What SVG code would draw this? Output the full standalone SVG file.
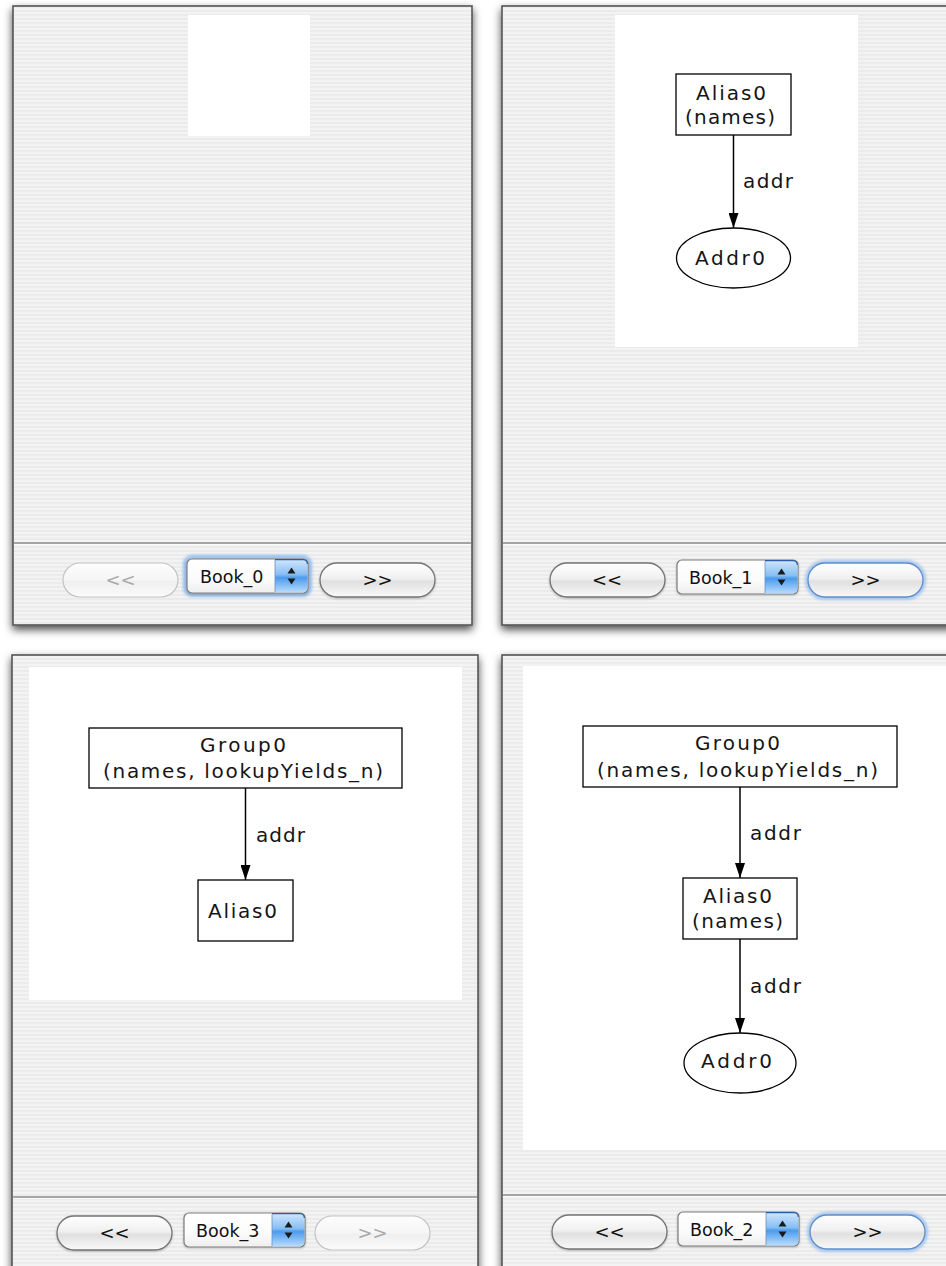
<svg xmlns="http://www.w3.org/2000/svg" width="946" height="1266" viewBox="0 0 946 1266">
<style>
.win{fill:url(#stripes);stroke:#555555;stroke-width:1.6;filter:url(#shadow)}
.sep{stroke:#8e8e8e;stroke-width:1.3}
.sepHi{stroke:#fbfbfb;stroke-width:1}
.canvas{fill:#ffffff}
.node{fill:#ffffff;stroke:#000;stroke-width:1.3}
.edge{stroke:#000;stroke-width:1.5;fill:none;marker-end:url(#arrow)}
.lbl{font-family:"DejaVu Sans","Liberation Sans",sans-serif;font-size:20px;fill:#151515}
.btxt{font-family:"DejaVu Sans","Liberation Sans",sans-serif;font-size:18px;fill:#111;text-anchor:middle}
.dis{fill:#a9a9a9}
.ptxt{font-family:"DejaVu Sans","Liberation Sans",sans-serif;font-size:17.5px;fill:#111}
</style>
<defs>
<pattern id="stripes" patternUnits="userSpaceOnUse" width="4" height="4">
<rect width="4" height="4" fill="#ebebeb"/>
<rect width="4" height="2" fill="#f3f3f3"/>
</pattern>
<filter id="shadow" x="-10%" y="-10%" width="120%" height="120%">
<feDropShadow dx="0" dy="4" stdDeviation="4.5" flood-color="#000" flood-opacity="0.7"/>
</filter>
<filter id="glow" x="-20%" y="-40%" width="140%" height="180%">
<feGaussianBlur stdDeviation="1.6"/>
</filter>
<filter id="btnShadow" x="-10%" y="-20%" width="120%" height="150%">
<feDropShadow dx="0" dy="1" stdDeviation="0.8" flood-color="#000" flood-opacity="0.25"/>
</filter>
<linearGradient id="gBtn" x1="0" y1="0" x2="0" y2="1">
<stop offset="0" stop-color="#ffffff"/>
<stop offset="0.45" stop-color="#f0f0f0"/>
<stop offset="0.55" stop-color="#e0e0e0"/>
<stop offset="1" stop-color="#fafafa"/>
</linearGradient>
<linearGradient id="gBtnDis" x1="0" y1="0" x2="0" y2="1">
<stop offset="0" stop-color="#fdfdfd"/>
<stop offset="0.5" stop-color="#f5f5f5"/>
<stop offset="0.55" stop-color="#efefef"/>
<stop offset="1" stop-color="#fbfbfb"/>
</linearGradient>
<linearGradient id="gPop" x1="0" y1="0" x2="0" y2="1">
<stop offset="0" stop-color="#ffffff"/>
<stop offset="0.6" stop-color="#fbfbfb"/>
<stop offset="1" stop-color="#eeeeee"/>
</linearGradient>
<linearGradient id="gBlue" x1="0" y1="0" x2="0" y2="1">
<stop offset="0" stop-color="#cfe6fc"/>
<stop offset="0.45" stop-color="#88bff4"/>
<stop offset="0.55" stop-color="#4c9bed"/>
<stop offset="1" stop-color="#b9dcfd"/>
</linearGradient>
<marker id="arrow" markerUnits="userSpaceOnUse" viewBox="0 0 15 10" refX="15" refY="5" markerWidth="15" markerHeight="10" orient="auto">
<path d="M0,0 L15,5 L0,10 z" fill="#000"/>
</marker>
<g id="pillN">
<rect x="0" y="0" width="115" height="34" rx="17" fill="url(#gBtn)" stroke="#747474" stroke-width="1.3" filter="url(#btnShadow)"/>
</g>
<g id="pillD">
<rect x="0" y="0" width="115" height="34" rx="17" fill="url(#gBtnDis)" stroke="#c3c3c3" stroke-width="1.2"/>
</g>
<g id="pillB">
<rect x="-1" y="-1" width="117" height="36" rx="18" fill="none" stroke="#8ab6ea" stroke-width="4" opacity="0.75" filter="url(#glow)"/>
<rect x="0" y="0" width="115" height="34" rx="17" fill="url(#gBtn)" stroke="#5d8ecb" stroke-width="1.3"/>
</g>
<g id="popup">
<rect x="0" y="0" width="121" height="34" rx="5" fill="url(#gPop)" stroke="#7c7c7c" stroke-width="1.2" filter="url(#btnShadow)"/>
<path d="M88,0.6 H116 A4.4,4.4 0 0 1 120.4,5 V29 A4.4,4.4 0 0 1 116,33.4 H88 Z" fill="url(#gBlue)"/>
<path d="M88,0.6 H116 A4.4,4.4 0 0 1 120.4,5" fill="none" stroke="#2d5da8" stroke-width="1.2"/>
<line x1="88" y1="1" x2="88" y2="33" stroke="#6c8fc0" stroke-width="0.8"/>
<path d="M100.5,14.5 L108.5,14.5 L104.5,8.5 z" fill="#1a1a1a"/>
<path d="M100.5,19.5 L108.5,19.5 L104.5,25.5 z" fill="#1a1a1a"/>
</g>
<g id="focusRing">
<rect x="-2" y="-2" width="125" height="38" rx="7" fill="none" stroke="#7fb0ea" stroke-width="4" opacity="0.8" filter="url(#glow)"/>
</g>
</defs>

<rect x="0" y="0" width="946" height="1266" fill="#ffffff"/>

<!-- Window: Book_0 (top-left) -->
<g id="window-book0">
<rect class="win" x="13" y="6" width="459" height="619"/>
<rect class="canvas" x="188" y="15" width="122" height="121"/>
<line class="sep" x1="14" y1="543" x2="471" y2="543"/>
<line class="sepHi" x1="14" y1="544.5" x2="471" y2="544.5"/>
<g id="btn-prev-0">
<use href="#pillD" x="63" y="563"/>
<text class="btxt dis" x="120.5" y="586">&lt;&lt;</text>
</g>
<g id="popup-0">
<use href="#focusRing" x="187" y="559"/>
<use href="#popup" x="187" y="559"/>
<text class="ptxt" x="200" y="583">Book_0</text>
</g>
<g id="btn-next-0">
<use href="#pillN" x="320" y="563"/>
<text class="btxt" x="377.5" y="586">&gt;&gt;</text>
</g>
</g>

<!-- Window: Book_1 (top-right) -->
<g id="window-book1">
<rect class="win" x="502" y="6" width="470" height="619"/>
<rect class="canvas" x="615" y="15" width="243" height="332"/>
<line class="sep" x1="503" y1="543" x2="946" y2="543"/>
<line class="sepHi" x1="503" y1="544.5" x2="946" y2="544.5"/>
<g id="btn-prev-1">
<use href="#pillN" x="550" y="563"/>
<text class="btxt" x="607" y="586">&lt;&lt;</text>
</g>
<g id="popup-1">
<use href="#popup" x="677" y="560"/>
<text class="ptxt" x="689" y="584">Book_1</text>
</g>
<g id="btn-next-1">
<use href="#pillB" x="808" y="563"/>
<text class="btxt" x="865.5" y="586">&gt;&gt;</text>
</g>
</g>

<!-- Window: Book_3 (bottom-left) -->
<g id="window-book3">
<rect class="win" x="12" y="655" width="466" height="640"/>
<rect class="canvas" x="29" y="667" width="433" height="333"/>
<line class="sep" x1="13" y1="1197" x2="477" y2="1197"/>
<line class="sepHi" x1="13" y1="1198.5" x2="477" y2="1198.5"/>
<g id="btn-prev-3">
<use href="#pillN" x="57" y="1216"/>
<text class="btxt" x="114.5" y="1239">&lt;&lt;</text>
</g>
<g id="popup-3">
<use href="#popup" x="184" y="1213"/>
<text class="ptxt" x="196" y="1237">Book_3</text>
</g>
<g id="btn-next-3">
<use href="#pillD" x="315" y="1216"/>
<text class="btxt dis" x="372.5" y="1239">&gt;&gt;</text>
</g>
</g>

<!-- Window: Book_2 (bottom-right) -->
<g id="window-book2">
<rect class="win" x="502" y="655" width="470" height="640"/>
<rect class="canvas" x="523" y="666" width="423" height="484"/>
<line class="sep" x1="503" y1="1195" x2="946" y2="1195"/>
<line class="sepHi" x1="503" y1="1196.5" x2="946" y2="1196.5"/>
<g id="btn-prev-2">
<use href="#pillN" x="552" y="1215"/>
<text class="btxt" x="609.5" y="1238">&lt;&lt;</text>
</g>
<g id="popup-2">
<use href="#popup" x="678" y="1212"/>
<text class="ptxt" x="690" y="1236">Book_2</text>
</g>
<g id="btn-next-2">
<use href="#pillB" x="810" y="1215"/>
<text class="btxt" x="867.5" y="1238">&gt;&gt;</text>
</g>
</g>

<!-- Connectors -->
<g id="connectors">
<line class="edge" x1="733.5" y1="135" x2="733.5" y2="228"/>
<text class="lbl" x="743" y="188" textLength="50" lengthAdjust="spacing">addr</text>
<line class="edge" x1="245.5" y1="788" x2="245.5" y2="880"/>
<text class="lbl" x="256" y="842" textLength="49" lengthAdjust="spacing">addr</text>
<line class="edge" x1="740" y1="787" x2="740" y2="878"/>
<text class="lbl" x="750" y="840" textLength="51" lengthAdjust="spacing">addr</text>
<line class="edge" x1="740" y1="939" x2="740" y2="1033"/>
<text class="lbl" x="750" y="993" textLength="51" lengthAdjust="spacing">addr</text>
</g>

<!-- Nodes: Book_1 -->
<g id="b1-alias0">
<rect class="node" x="676" y="74" width="115" height="61"/>
<text class="lbl" x="696" y="100" textLength="70" lengthAdjust="spacing">Alias0</text>
<text class="lbl" x="685" y="124" textLength="90" lengthAdjust="spacing">(names)</text>
</g>
<g id="b1-addr0">
<ellipse class="node" cx="733.5" cy="258" rx="57" ry="30"/>
<text class="lbl" x="695" y="265" textLength="70" lengthAdjust="spacing">Addr0</text>
</g>

<!-- Nodes: Book_3 -->
<g id="b3-group0">
<rect class="node" x="89" y="728" width="313" height="60"/>
<text class="lbl" x="200" y="752" textLength="86" lengthAdjust="spacing">Group0</text>
<text class="lbl" x="103" y="778" textLength="280" lengthAdjust="spacing">(names, lookupYields_n)</text>
</g>
<g id="b3-alias0">
<rect class="node" x="198" y="880" width="95" height="61"/>
<text class="lbl" x="208" y="918" textLength="69" lengthAdjust="spacing">Alias0</text>
</g>

<!-- Nodes: Book_2 -->
<g id="b2-group0">
<rect class="node" x="583" y="726" width="314" height="61"/>
<text class="lbl" x="695" y="750" textLength="85" lengthAdjust="spacing">Group0</text>
<text class="lbl" x="597" y="777" textLength="281" lengthAdjust="spacing">(names, lookupYields_n)</text>
</g>
<g id="b2-alias0">
<rect class="node" x="683" y="878" width="114" height="61"/>
<text class="lbl" x="703" y="903" textLength="69" lengthAdjust="spacing">Alias0</text>
<text class="lbl" x="692" y="928" textLength="91" lengthAdjust="spacing">(names)</text>
</g>
<g id="b2-addr0">
<ellipse class="node" cx="740" cy="1063" rx="56" ry="30"/>
<text class="lbl" x="701" y="1068" textLength="71" lengthAdjust="spacing">Addr0</text>
</g>
</svg>
